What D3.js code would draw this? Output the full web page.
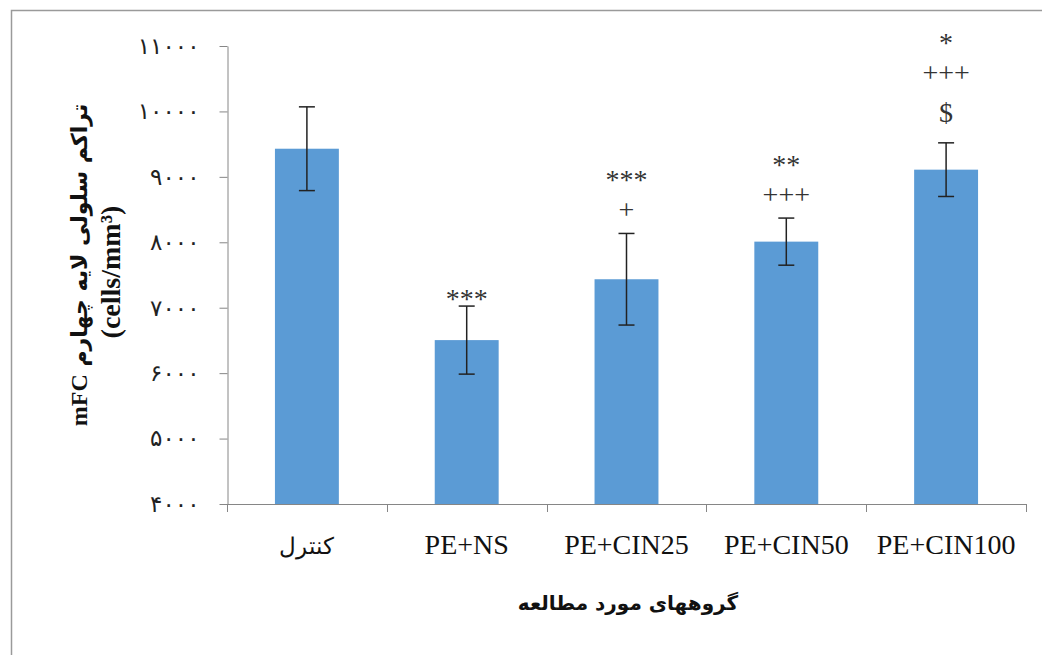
<!DOCTYPE html>
<html>
<head>
<meta charset="utf-8">
<script src="https://cdn.jsdelivr.net/npm/d3@7"></script>
<style>
  body { margin: 0; background: #fff; }
  text { font-family: "Liberation Serif", "DejaVu Serif", serif; }
</style>
</head>
<body>
<div id="chart"></div>
<script>
// groups and values
var groups = ["کنترل", "PE+NS", "PE+CIN25", "PE+CIN50", "PE+CIN100"]
var means = [9430, 6505, 7435, 8010, 9110]
var errs = [640, 520, 700, 360, 410]
// significance marks, top line first
var marks = [[], ["***"], ["***", "+"], ["**", "+++"], ["*", "+++", "$"]]
var yTicks = [4000, 5000, 6000, 7000, 8000, 9000, 10000, 11000]

var W = 1042, H = 655
var svg = d3.select('#chart').append('svg').attr('width', W).attr('height', H)

// frame
svg.append('path').attr('d', 'M11.5,' + H + 'V10.5H' + W)
  .attr('fill', 'none').attr('stroke', '#9a9a9a').attr('stroke-width', 1.5)

var x = d3.scaleBand().domain(groups).range([227, 1026])
var y = d3.scaleLinear().domain([4000, 11000]).range([504, 46])

var fa = function(v) {
  return String(v).replace(/\d/g, function(d) { return "۰۱۲۳۴۵۶۷۸۹"[+d] })
}

// y axis
var yAxis = svg.append('g').attr('transform', 'translate(227.5,0)')
  .call(d3.axisLeft(y).tickValues(yTicks).tickFormat(fa).tickSize(8).tickSizeOuter(0).tickPadding(20))
yAxis.select('.domain').attr('stroke', '#868686')
yAxis.selectAll('.tick line').attr('stroke', '#868686')
yAxis.selectAll('.tick text').attr('fill', '#222').style('font-size', '23px')
  .style('font-family', '"DejaVu Sans", sans-serif')

// bars
var bw = x.bandwidth() * 0.4
svg.selectAll('rect.bar').data(groups).enter().append('rect')
  .attr('class', 'bar')
  .attr('x', function(d) { return x(d) + (x.bandwidth() - bw) / 2 })
  .attr('width', bw)
  .attr('y', function(d, i) { return y(means[i]) })
  .attr('height', function(d, i) { return y(4000) - y(means[i]) })
  .attr('fill', '#5b9bd5')

// x axis with ticks at band edges
svg.append('line').attr('x1', 227).attr('x2', 1026).attr('y1', 504.5).attr('y2', 504.5).attr('stroke', '#868686')
var edges = groups.map(function(d) { return x(d) }).concat([x.range()[1]])
svg.selectAll('line.xt').data(edges).enter().append('line')
  .attr('x1', function(d) { return Math.round(d) + 0.5 }).attr('x2', function(d) { return Math.round(d) + 0.5 })
  .attr('y1', 504).attr('y2', 512).attr('stroke', '#868686')

// error bars
var eb = svg.append('g').attr('stroke', '#222').attr('stroke-width', 1.5)
groups.forEach(function(g, i) {
  var cx = x(g) + x.bandwidth() / 2
  eb.append('line').attr('x1', cx).attr('x2', cx).attr('y1', y(means[i] + errs[i])).attr('y2', y(means[i] - errs[i]))
  eb.append('line').attr('x1', cx - 8).attr('x2', cx + 8).attr('y1', y(means[i] + errs[i])).attr('y2', y(means[i] + errs[i]))
  eb.append('line').attr('x1', cx - 8).attr('x2', cx + 8).attr('y1', y(means[i] - errs[i])).attr('y2', y(means[i] - errs[i]))
})

// significance marks stacked above error bars
var gap = { '$': 30, '+': 21, '*': 13 }      // bottom mark centre above the cap
var lift = { '$': 9, '+': 7, '*': 15 }       // baseline below visual centre
groups.forEach(function(g, i) {
  var cx = x(g) + x.bandwidth() / 2
  var top = y(means[i] + errs[i])
  var n = marks[i].length
  if (!n) return
  var base = top - gap[marks[i][n - 1][0]]
  marks[i].forEach(function(m, k) {
    var cy = base - (n - 1 - k) * 38
    svg.append('text').attr('x', cx).attr('y', cy + lift[m[0]]).attr('text-anchor', 'middle')
      .attr('fill', '#333').style('font-size', '28px').text(m)
  })
})

// x labels
svg.selectAll('text.xl').data(groups).enter().append('text')
  .attr('x', function(d) { return x(d) + x.bandwidth() / 2 })
  .attr('y', 554).attr('text-anchor', 'middle')
  .attr('fill', '#111')
  .style('font-size', function(d, i) { return i == 0 ? '23px' : '28px' })
  .text(function(d) { return d })

// axis titles
svg.append('text').attr('x', 628).attr('y', 610).attr('text-anchor', 'middle')
  .attr('direction', 'rtl').attr('fill', '#111')
  .style('font-size', '20px').style('font-weight', 'bold')
  .style('font-family', '"DejaVu Sans", sans-serif')
  .text('گروههای مورد مطالعه')

var yt = svg.append('text').attr('transform', 'translate(87,265) rotate(-90)')
  .attr('text-anchor', 'middle').attr('direction', 'rtl').attr('fill', '#111')
  .style('font-weight', 'bold').style('font-size', '24px')
yt.append('tspan').style('font-family', '"DejaVu Sans", sans-serif').style('font-size', '22px').text('تراکم سلولی لایه چهارم ')
yt.append('tspan').text('mFC')
svg.append('text').attr('transform', 'translate(120,272) rotate(-90)')
  .attr('text-anchor', 'middle').attr('fill', '#111')
  .style('font-weight', 'bold').style('font-size', '28px')
  .text('(cells/mm³)')
</script>
</body>
</html>
